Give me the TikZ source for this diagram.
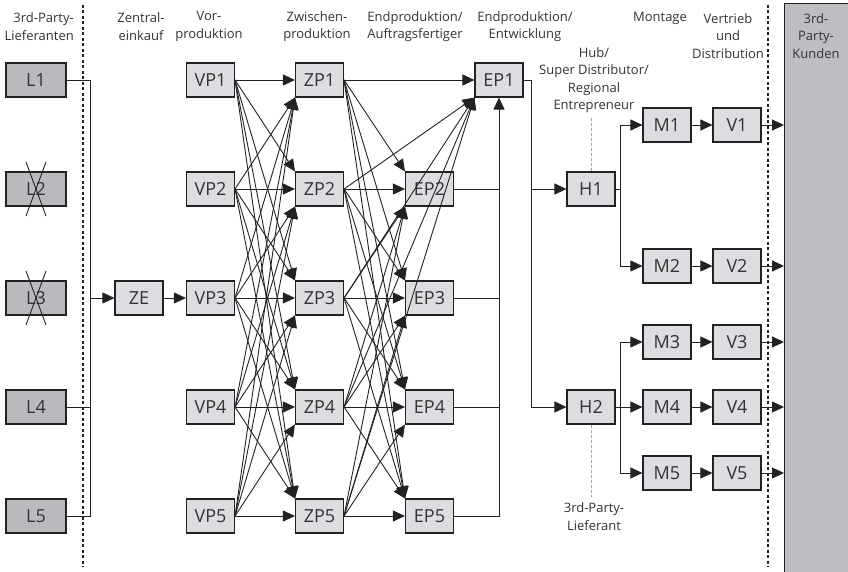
\documentclass[tikz,border=0pt]{standalone}
\usepackage{fontspec}
\setmainfont{Open Sans}
\usetikzlibrary{arrows.meta,calc}
\definecolor{boxfill}{HTML}{DCDDE0}
\definecolor{darkfill}{HTML}{B9BABE}
\definecolor{panelfill}{HTML}{BDBEC2}
\definecolor{ink}{HTML}{222222}
\definecolor{txt}{HTML}{333333}
\begin{document}
\begin{tikzpicture}[x=1pt,y=-1pt,
  box/.style={draw=ink,line width=1.1pt,fill=boxfill,minimum width=48pt,minimum height=34pt,inner sep=0pt,font=\fontsize{18}{18}\selectfont,text=txt},
  lbox/.style={box,fill=darkfill,minimum width=60pt},
  conn/.style={draw=ink,line width=0.9pt},
  arr/.style={conn,-{Triangle[length=12pt,width=11pt]}},
  hdr/.style={align=center,inner sep=0pt,text=txt,font=\fontsize{13}{17.5}\selectfont},
  sepline/.style={draw=ink,line width=1.2pt,dash pattern=on 3pt off 2.5pt},
  hint/.style={draw=gray!70,line width=0.8pt,dash pattern=on 3pt off 2pt}]
\useasboundingbox (0,0) rectangle (848,572);
% customer panel
\node[draw=ink,fill=panelfill,line width=1.1pt,anchor=north west,minimum width=70pt,minimum height=575pt,inner sep=0pt] (cust) at (784,3) {};
\node[hdr] (custlbl) at (816,36) {3rd-\\Party-\\Kunden};
% headers
\node[hdr,align=right,anchor=east] (h1) at (74,26.5) {3rd-Party-\\Lieferanten};
\node[hdr] (h2) at (141,26.5) {Zentral-\\einkauf};
\node[hdr] (h3) at (209,26.5) {Vor-\\produktion};
\node[hdr] (h4) at (317,26.5) {Zwischen-\\produktion};
\node[hdr] (h5) at (415,26.5) {Endproduktion/\\Auftragsfertiger};
\node[hdr] (h6) at (525,26.5) {Endproduktion/\\Entwicklung};
\node[hdr] (h7) at (660,18) {Montage};
\node[hdr] (h8) at (728,36) {Vertrieb\\und\\Distribution};
\node[hdr] (hub) at (594,80) {Hub/\\Super Distributor/\\Regional\\Entrepreneur};
\node[hdr] (tpl) at (594,516.5) {3rd-Party-\\Lieferant};
% separators
\draw[sepline] (83,5) -- (83,567);
\draw[sepline] (768,5) -- (768,567);
% boxes
\foreach \y [count=\i] in {80,189,298,407,516} {
  \node[lbox] (L\i) at (36,\y) {L\i};
  \node[box] (VP\i) at (210.5,\y) {VP\i};
  \node[box] (ZP\i) at (319.5,\y) {ZP\i};
}
\foreach \y [count=\i from 2] in {189,298,407,516} \node[box] (EP\i) at (429.5,\y) {EP\i};
\node[box] (EP1) at (499,80) {EP1};
\node[box] (ZE) at (139,298) {ZE};
\node[box] (H1) at (591,189) {H1};
\node[box] (H2) at (591,407) {H2};
\foreach \y [count=\i] in {125,266,342,407,473} {
  \node[box] (M\i) at (667,\y) {M\i};
  \node[box] (V\i) at (737,\y) {V\i};
  \draw[arr] (M\i) -- (V\i);
  \draw[arr] (V\i.east) -- (V\i.east -| cust.west);
}
% crossed-out suppliers
\foreach \n in {L2,L3} {
  \draw[conn] ($(\n.center)+(-10,-27)$) -- ($(\n.center)+(10,27)$);
  \draw[conn] ($(\n.center)+(10,-27)$) -- ($(\n.center)+(-10,27)$);
}
% supplier collector
\coordinate (c1) at (90,80);
\coordinate (c5) at (90,516);
\draw[conn] (L1.east) -- (c1) -- (c5) -- (L5.east);
\draw[conn] (L4.east) -- (L4.east -| c1);
\draw[arr] (ZE.west -| c1) -- (ZE.west);
\draw[arr] (ZE) -- (VP3);
% VP -> ZP
\foreach \i in {1,...,5} {
  \foreach \j in {1,...,5} {
    \ifnum\i<\j \def\anc{north west}\else\ifnum\i=\j \def\anc{west}\else\def\anc{south west}\fi\fi
    \draw[arr] (VP\i.east) -- (ZP\j.\anc);
  }
}
% ZP -> EP
\foreach \i in {1,...,5} {
  \ifnum\i=1 \def\anc{west}\else\def\anc{south west}\fi
  \draw[arr] (ZP\i.east) -- (EP1.\anc);
  \foreach \j in {2,...,5} {
    \ifnum\i<\j \def\anc{north west}\else\ifnum\i=\j \def\anc{west}\else\def\anc{south west}\fi\fi
    \draw[arr] (ZP\i.east) -- (EP\j.\anc);
  }
}
% EP2..5 -> EP1
\foreach \j in {2,...,4} \draw[conn] (EP\j.east) -- (EP\j.east -| EP1.south);
\draw[arr] (EP5.east) -- (EP5.east -| EP1.south) -- (EP1.south);
% EP1 -> hubs
\coordinate (d1) at (531,80);
\draw[arr] (EP1.east) -- (d1) |- (H2.west);
\draw[arr] (H1.west -| d1) -- (H1.west);
% hubs -> Montage
\coordinate (e1) at (620,189);
\draw[conn] (H1.east) -- (e1);
\draw[arr] (e1) |- (M1.west);
\draw[arr] (e1) |- (M2.west);
\coordinate (e2) at (620,407);
\draw[arr] (H2.east) -- (M4.west);
\draw[arr] (e2) |- (M3.west);
\draw[arr] (e2) |- (M5.west);
% hint lines
\draw[hint] (591,118) -- (H1.north);
\draw[hint] (H2.south) -- (591,497);
\end{tikzpicture}
\end{document}
